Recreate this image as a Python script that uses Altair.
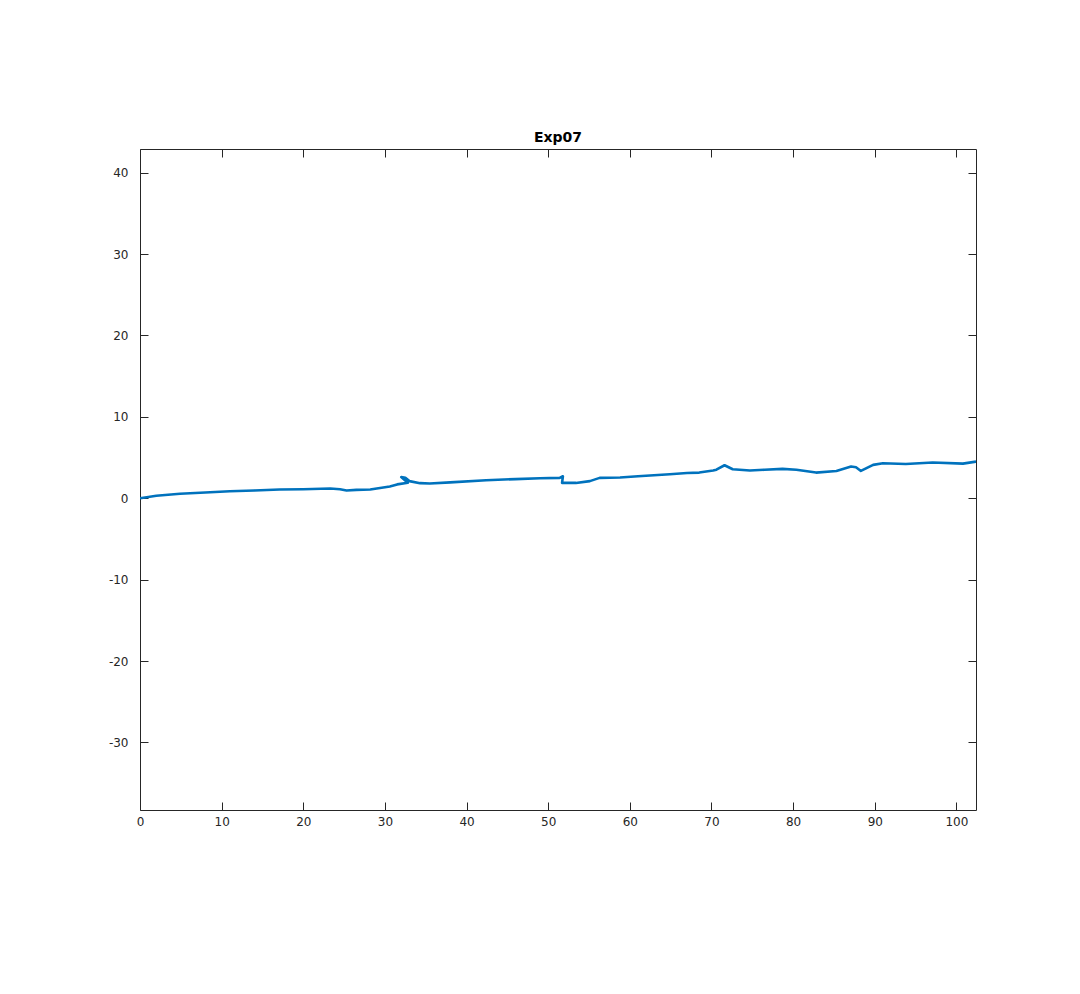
import altair as alt
import pandas as pd

xs = [0, 2, 4.9, 8, 11, 14, 17.1, 20, 23.3, 24.5, 25.3, 26.5, 28.2, 30.6, 31.5, 32.8, 32.0, 32.5, 33.0,
      34.3, 35.5, 38, 42.4, 46, 49, 51.4, 51.8, 51.7, 53.4, 55.1, 56.3, 58.8, 61, 64.9, 67, 68.5, 70.2,
      70.6, 71.6, 72.6, 74.7, 76.5, 78.7, 80.4, 82.8, 85.3, 87.1, 87.7, 88.3, 89.8, 91, 93.8, 97.1, 100.8, 102.4]
ys = [0.0, 0.3, 0.55, 0.7, 0.85, 0.95, 1.07, 1.1, 1.19, 1.1, 0.95, 1.02, 1.07, 1.45, 1.7, 1.9, 2.6, 2.5, 2.1,
      1.85, 1.8, 1.95, 2.2, 2.35, 2.45, 2.5, 2.7, 1.88, 1.88, 2.1, 2.5, 2.55, 2.7, 2.94, 3.1, 3.15, 3.4,
      3.5, 4.05, 3.56, 3.4, 3.5, 3.6, 3.5, 3.15, 3.35, 3.9, 3.8, 3.35, 4.1, 4.3, 4.2, 4.38, 4.25, 4.5]

df = pd.DataFrame({"x": xs, "y": ys, "i": list(range(len(xs)))})

XDOM = [0, 102.4]
YDOM = [-38.3, 42.9]
W, H = 836, 661
font = "DejaVu Sans"
axcol = "#262626"

xs_scale = alt.Scale(domain=XDOM, nice=False, zero=False)
ys_scale = alt.Scale(domain=YDOM, nice=False, zero=False)
xticks = list(range(0, 101, 10))
yticks = list(range(-30, 41, 10))

line = alt.Chart(df).mark_line(color="#0072BD", strokeWidth=2.6, clip=True, strokeJoin="round").encode(
    x=alt.X("x:Q", scale=xs_scale, title=None,
            axis=alt.Axis(values=xticks, orient="bottom", offset=-8, tickSize=8, domain=False,
                          grid=False, labelPadding=6, tickColor=axcol, labelColor=axcol,
                          labelExpr="'' + datum.value", labelFlush=False,
                          labelFont=font, labelFontSize=12)),
    y=alt.Y("y:Q", scale=ys_scale, title=None,
            axis=alt.Axis(values=yticks, orient="left", offset=-8, tickSize=8, domain=False,
                          grid=False, labelPadding=12, tickColor=axcol, labelColor=axcol,
                          labelExpr="'' + datum.value", labelFlush=False,
                          labelFont=font, labelFontSize=12)),
    order="i:Q",
)

ghost = alt.Chart(df).mark_line(opacity=0).encode(
    x=alt.X("x:Q", scale=xs_scale, title=None,
            axis=alt.Axis(values=xticks, orient="top", offset=-8, tickSize=8, domain=False,
                          grid=False, labels=False, tickColor=axcol)),
    y=alt.Y("y:Q", scale=ys_scale, title=None,
            axis=alt.Axis(values=yticks, orient="right", offset=-8, tickSize=8, domain=False,
                          grid=False, labels=False, tickColor=axcol)),
    order="i:Q",
)

chart = alt.layer(line, ghost).resolve_axis(x="independent", y="independent").properties(
    width=W, height=H,
    background="white",
    title=alt.TitleParams("Exp07", font=font, fontSize=14, fontWeight="bold", color="black", offset=4),
    autosize=alt.AutoSizeParams(type="none"),
    padding={"left": 132, "top": 141, "right": 80, "bottom": 150},
).configure_view(stroke=axcol, strokeWidth=1)

chart.save("out.html", embed_options={"renderer": "svg", "actions": False})
